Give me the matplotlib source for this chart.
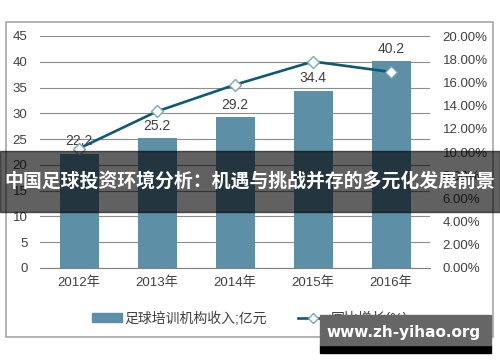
import matplotlib
matplotlib.use('Agg')
import matplotlib.pyplot as plt
import matplotlib.patches as mpatches
from matplotlib.lines import Line2D
from matplotlib.ticker import FuncFormatter, MultipleLocator

plt.rcParams['font.family'] = ['Liberation Sans', 'Noto Sans CJK SC', 'DejaVu Sans']

years = ['2012年', '2013年', '2014年', '2015年', '2016年']
income = [22.2, 25.2, 29.2, 34.4, 40.2]
growth = [10.3, 13.5, 15.8, 17.8, 16.9]

bar_color = '#5d8fa7'
line_color = '#0f5a70'
text_color = '#404040'
grid_color = '#8c8c8c'

fig = plt.figure(figsize=(5, 3.62), dpi=100)

# outer frame
fig.patches.append(mpatches.Rectangle((6/500, 1-337/362), 487/500, 315/362,
                                      transform=fig.transFigure, fill=False,
                                      edgecolor='#a6a6a6', lw=1.2))

ax = fig.add_axes([40/500, 1-268/362, 390/500, 232/362])
x = range(len(years))
ax.bar(x, income, width=0.5, color=bar_color, zorder=2)
for xi, v in zip(x, income):
    ax.text(xi, v + 1.0, f'{v:.1f}', ha='center', va='bottom', fontsize=10,
            color=text_color, zorder=5)
ax.set_xlim(-0.5, 4.5)
ax.set_ylim(0, 45)
ax.yaxis.set_major_locator(MultipleLocator(5))
ax.grid(axis='y', color=grid_color, lw=0.8, zorder=0)
for s in ['top', 'right', 'left']:
    ax.spines[s].set_visible(False)
ax.spines['bottom'].set_color('#7f7f7f')
ax.set_xticks(list(x))
ax.set_xticklabels(years)
ax.tick_params(axis='both', length=0, labelsize=9.5, colors=text_color)
ax.tick_params(axis='y', pad=9)
ax.tick_params(axis='x', pad=6)

ax2 = ax.twinx()
ax2.plot(x, growth, color=line_color, lw=1.9, marker='D', markersize=6,
         markerfacecolor='white', markeredgecolor='#7aa6bb', markeredgewidth=1.0,
         zorder=4)
ax2.set_ylim(0, 20)
ax2.yaxis.set_major_locator(MultipleLocator(2))
ax2.yaxis.set_major_formatter(FuncFormatter(lambda v, p: f'{v:.2f}%'))
ax2.tick_params(axis='y', length=0, labelsize=9.5, colors=text_color, pad=9)
for s in ax2.spines.values():
    s.set_visible(False)

handles = [mpatches.Patch(color=bar_color),
           Line2D([0], [0], color=line_color, lw=1.9, marker='D', markersize=5,
                  markerfacecolor='white', markeredgecolor='#7aa6bb')]
fig.legend(handles, ['足球培训机构收入;亿元', '同比增长(%)'], loc='center',
           bbox_to_anchor=(0.5, 1-318/362), ncol=2, frameon=False,
           fontsize=10, labelcolor=text_color, handlelength=2.2, handleheight=0.6,
           columnspacing=2.2, handletextpad=0.2)

# title banner
fig.patches.append(mpatches.Rectangle((0, 1-212/362), 1, 61/362,
                                      transform=fig.transFigure,
                                      color='black', alpha=0.62, zorder=10))
fig.text(0.5, 1-181/362, '中国足球投资环境分析：机遇与挑战并存的多元化发展前景',
         ha='center', va='center', color='white', fontsize=13.6, fontweight='bold',
         family=['Noto Sans CJK SC', 'DejaVu Sans'], zorder=11)

# watermark
fig.patches.append(mpatches.Rectangle((320/500, 1-353/362), 171/500, 8/362,
                                      transform=fig.transFigure, color='black',
                                      zorder=10))
fig.patches.append(mpatches.Rectangle((320/500, 1-345/362), 171/500, 30/362,
                                      transform=fig.transFigure, color='#666666',
                                      zorder=10))
fig.text(404/500, 1-333/362, 'www.zh-yihao.org', ha='center', va='center',
         color='white', fontsize=11, fontweight='bold', family='DejaVu Sans',
         zorder=11)

fig.savefig('out.png', dpi=100)
